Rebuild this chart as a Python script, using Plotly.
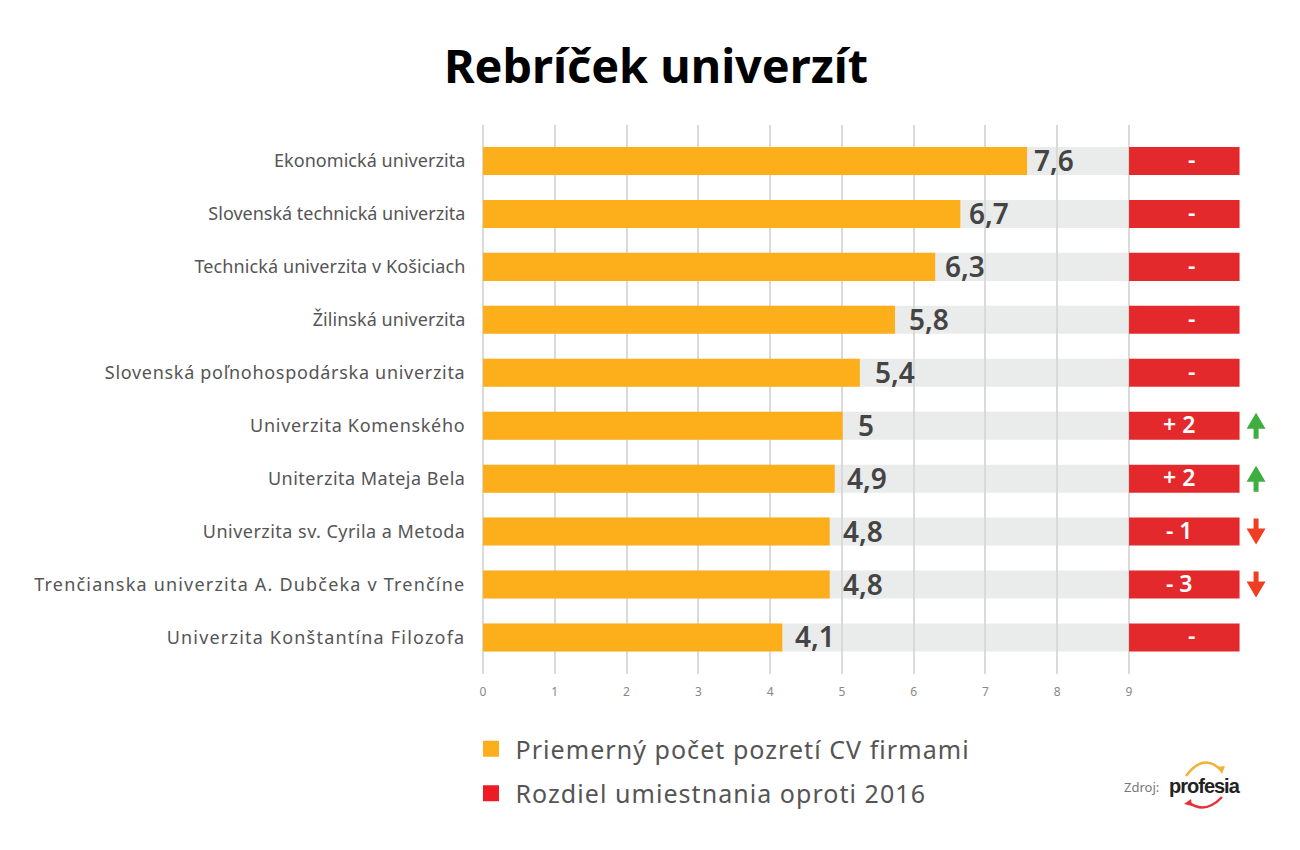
import json
import plotly.graph_objects as go

universities = [
    "Ekonomická univerzita", "Slovenská technická univerzita",
    "Technická univerzita v Košiciach", "Žilinská univerzita",
    "Slovenská poľnohospodárska univerzita", "Univerzita Komenského",
    "Uniterzita Mateja Bela", "Univerzita sv. Cyrila a Metoda",
    "Trenčianska univerzita A. Dubčeka v Trenčíne", "Univerzita Konštantína Filozofa",
]
bar_lengths = [7.58, 6.65, 6.3, 5.74, 5.25, 5.01, 4.9, 4.83, 4.83, 4.17]
value_labels = ["7,6", "6,7", "6,3", "5,8", "5,4", "5", "4,9", "4,8", "4,8", "4,1"]
rank_change = [0, 0, 0, 0, 0, 2, 2, -1, -3, 0]
scale_end = [9] * 10
panel_width = [1.54] * 10
x_ticks = [0, 1, 2, 3, 4, 5, 6, 7, 8, 9]
legend_names = ["Priemerný počet pozretí CV firmami", "Rozdiel umiestnania oproti 2016"]

FONT = "Noto Sans"
W, H = 1300, 850
L, R, T, B = 483, 1283, 125, 674
label_nudge = [7, 9, 10, 14, 15, 15, 12, 13, 13, 13]
tick_spacing = [0.05, 0, 0.1, 0.05, 0.7, 0.7, 0.5, 0.47, 1.2, 1.2]


def px(x):
    return (x - L) / (R - L)


def py(y):
    return (B - y) / (B - T)


y_idx = list(range(len(universities)))
change_text = ["-" if c == 0 else ("+ %d" % c if c > 0 else "- %d" % -c) for c in rank_change]

fig = go.Figure()
fig.add_bar(y=y_idx, x=scale_end, orientation="h", width=0.53,
            marker=dict(color="rgba(214,216,215,0.5)", line_width=0), showlegend=False, hoverinfo="skip")
fig.add_bar(y=y_idx, x=bar_lengths, orientation="h", width=0.53,
            marker=dict(color="#FDAF1B", line_width=0), showlegend=False)
fig.add_bar(y=y_idx, x=panel_width, base=scale_end, orientation="h", width=0.53,
            marker=dict(color="#E4292C", line_width=0), showlegend=False)
for name, col in zip(legend_names, ["#FDAF1B", "#ED1C24"]):
    fig.add_scatter(x=[None], y=[None], mode="markers", name=name, legendgroup=name,
                    marker=dict(symbol="square", size=16, color=col, line_width=0))

for i, (length, lab, nudge) in enumerate(zip(bar_lengths, value_labels, label_nudge)):
    fig.add_annotation(x=length, y=i, text=lab, showarrow=False, xanchor="left", xshift=nudge - 2, yshift=1,
                       font=dict(family=FONT, size=28, color="#444444", weight=600))
for i, (c, lab) in enumerate(zip(rank_change, change_text)):
    fig.add_annotation(x=9 + panel_width[i] / 2, y=i, text=lab, showarrow=False,
                       xshift=7 if c == 0 else -5, yshift=2,
                       font=dict(family=FONT, size=23, color="white", weight=600))
    if c != 0:
        s = 1 if c > 0 else -1
        # arrow outline in pixels around its anchor; the anchor follows the axes
        fig.add_shape(type="path", xref="x", yref="y", xsizemode="pixel", ysizemode="pixel",
                      xanchor=10.77, yanchor=i,
                      path=(f"M0,{13*s} L-9.5,{-3*s} L-2.5,{-3*s} L-2.5,{-13*s} L2.5,{-13*s} L2.5,{-3*s} L9.5,{-3*s} Z"),
                      fillcolor="#3DAE3F" if c > 0 else "#F03E23", line_width=0)

# source credit with logo
fig.add_annotation(xref="paper", yref="paper", x=px(1161), y=py(787), xanchor="right", yanchor="middle",
                   text="Zdroj:", showarrow=False, font=dict(family=FONT, size=13, color="#777777"))
fig.add_annotation(xref="paper", yref="paper", x=px(1204), y=py(786), xanchor="center", yanchor="middle",
                   text="<b>profesia</b>", showarrow=False,
                   font=dict(family="Liberation Sans", size=20, color="#222222"))
arcs = [((1186, 776), (1203, 753), (1220, 769), "#F2B233"), ((1188, 802), (1205, 815), (1222, 797), "#E5323A")]
for (a, q, e, col) in arcs:
    fig.add_shape(type="path", xref="paper", yref="paper",
                  path=f"M{px(a[0])},{py(a[1])} Q{px(q[0])},{py(q[1])} {px(e[0])},{py(e[1])}",
                  line=dict(color=col, width=2.5))
heads = [([(1217, 767), (1225, 766), (1222, 774)], "#F2B233"), ([(1184, 804), (1191, 799), (1192, 806)], "#E5323A")]
for pts, col in heads:
    d = "M" + " L".join(f"{px(a)},{py(b)}" for a, b in pts) + " Z"
    fig.add_shape(type="path", xref="paper", yref="paper", path=d, fillcolor=col, line_width=0)

fig.update_layout(
    width=W, height=H, margin=dict(l=L, r=W - R, t=T, b=H - B, pad=0),
    paper_bgcolor="white", plot_bgcolor="white", barmode="overlay",
    title=dict(text="<b>Rebríček univerzít</b>", x=656 / W, xanchor="center", y=1 - 67 / H, yanchor="middle",
               font=dict(family=FONT, size=46.8, color="#000000")),
    xaxis=dict(range=[0, (R - L) / 71.78], tickvals=x_ticks, showgrid=True, gridcolor="#DADADA", gridwidth=1.5,
               zeroline=True, zerolinecolor="#DADADA", zerolinewidth=1.5, showline=False,
               ticks="outside", ticklen=7, tickcolor="rgba(0,0,0,0)",
               tickfont=dict(family=FONT, size=12, color="#888888")),
    yaxis=dict(range=[9 + 36.5 / 52.9, -36 / 52.9], tickvals=y_idx, ticktext=universities, showgrid=False,
               zeroline=False, showline=False, ticks="outside", ticklen=13, tickcolor="rgba(0,0,0,0)",
               tickfont=dict(family=FONT, size=18, color="#555555")),
    legend=dict(x=px(466.5), xanchor="left", y=py(726), yanchor="top", traceorder="grouped", tracegroupgap=9,
                itemwidth=39, bgcolor="rgba(0,0,0,0)", itemclick=False, itemdoubleclick=False,
                font=dict(family=FONT, size=25, color="#555555")),
)

spacing = json.dumps(dict(zip(universities, tick_spacing)), ensure_ascii=False)
post = f"""
document.body.style.margin='0';
var sp = {spacing};
document.querySelectorAll('.ytick text').forEach(function(t){{
  if (sp[t.textContent] !== undefined) t.style.letterSpacing = sp[t.textContent] + 'px';
}});
document.querySelectorAll('.legendtext').forEach(function(t){{ t.style.letterSpacing = '1.05px'; }});
document.querySelectorAll('.legend .scrollbox').forEach(function(s){{
  s.removeAttribute('clip-path'); s.style.clipPath = 'none';
}});
document.querySelectorAll('.annotation-text').forEach(function(t){{
  if (t.textContent === 'profesia') t.style.letterSpacing = '-1px';
}});
"""
fig.write_html("out.html", config={"displayModeBar": False}, post_script=post)
